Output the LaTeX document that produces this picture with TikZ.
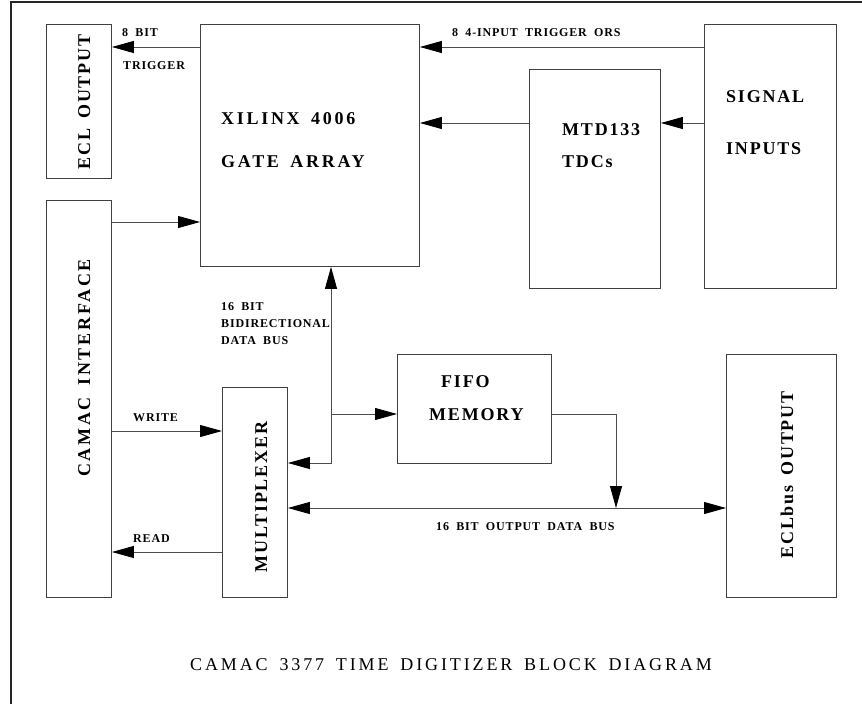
\documentclass[tikz,border=0pt]{standalone}
\usepackage{fontspec}
\usetikzlibrary{arrows.meta}
\newfontfamily\bigf[LetterSpace=10,WordSpace=1.6]{Liberation Serif}
\newfontfamily\bigw[LetterSpace=15,WordSpace=1.6]{Liberation Serif}
\newfontfamily\capf[LetterSpace=16,WordSpace=1.6]{Liberation Serif}
\newfontfamily\smallf[LetterSpace=7,WordSpace=1.9]{Liberation Serif}
\begin{document}
\begin{tikzpicture}[x=1pt,y=-1pt,
  blk/.style={draw=black!75,line width=0.9pt,rectangle,anchor=north west,inner sep=0pt},
  conn/.style={draw=black!70,line width=0.9pt},
  tip/.tip={Triangle[length=22pt,width=12pt,color=black]},
  arr/.style={conn,-tip},
  darr/.style={conn,tip-tip},
  bigtxt/.style={font=\bigf\bfseries\fontsize{18}{20}\selectfont,inner sep=0pt,anchor=base west},
  widetxt/.style={font=\bigw\bfseries\fontsize{18}{20}\selectfont,inner sep=0pt,anchor=base west},
  rottxt/.style={font=\bigf\bfseries\fontsize{18}{20}\selectfont,inner sep=0pt,anchor=base,rotate=90},
  lbl/.style={font=\smallf\bfseries\fontsize{12}{14}\selectfont,inner sep=0pt,anchor=base west},
  captxt/.style={font=\capf\fontsize{18}{20}\selectfont,inner sep=0pt,anchor=base west}]
\useasboundingbox (0,0) rectangle (862,704);
% frame
\draw[black!85,line width=1.3pt] (11,704) -- (11,2) -- (862,2);
% boxes
\node[blk,minimum width=65pt,minimum height=154pt] (ecl) at (46,24) {};
\node[blk,minimum width=219pt,minimum height=242pt] (xil) at (200,24) {};
\node[blk,minimum width=131pt,minimum height=219pt] (mtd) at (529,69) {};
\node[blk,minimum width=132pt,minimum height=264pt] (sig) at (704,24) {};
\node[blk,minimum width=65pt,minimum height=397pt] (cam) at (46,200) {};
\node[blk,minimum width=65pt,minimum height=210pt] (mux) at (222,387) {};
\node[blk,minimum width=154pt,minimum height=109pt] (fifo) at (397,354) {};
\node[blk,minimum width=110pt,minimum height=243pt] (eclb) at (726,354) {};
% box texts
\node[rottxt] (tecl) at (90,102) {ECL OUTPUT};
\node[widetxt] (txil1) at (221,124) {XILINX 4006};
\node[widetxt] (txil2) at (221,167.5) {GATE ARRAY};
\node[bigtxt] (tmtd1) at (562,135) {MTD133};
\node[bigtxt] (tmtd2) at (562,167.7) {TDCs};
\node[bigtxt] (tsig1) at (726,102.3) {SIGNAL};
\node[bigtxt] (tsig2) at (726,154.3) {INPUTS};
\node[rottxt,font=\bigw\bfseries\fontsize{18}{20}\selectfont] (tcam) at (90,368) {CAMAC INTERFACE};
\node[rottxt] (tmux) at (267,497) {MULTIPLEXER};
\node[bigtxt] (tfifo1) at (441,387.7) {FIFO};
\node[bigtxt] (tfifo2) at (429,420) {MEMORY};
\node[rottxt] (teclb) at (793,475) {ECLbus OUTPUT};
% junction coordinates
\coordinate (bj) at (331,463);
\coordinate (bb) at (331,414);
\coordinate (fj) at (616,414);
\coordinate (fb) at (616,508);
% connectors
\draw[arr] (xil.west |- 0,47) -- (ecl.east |- 0,47);
\draw[arr] (sig.west |- 0,47) -- (xil.east |- 0,47);
\draw[arr] (mtd.west |- 0,123) -- (xil.east |- 0,123);
\draw[arr] (sig.west |- 0,123) -- (mtd.east |- 0,123);
\draw[arr] (cam.east |- 0,222) -- (xil.west |- 0,222);
\draw[arr] (cam.east |- 0,431) -- (mux.west |- 0,431);
\draw[arr] (mux.west |- 0,552) -- (cam.east |- 0,552);
\draw[darr] (mux.east |- bj) -- (bj) -- (bj |- xil.south);
\draw[arr] (bb) -- (fifo.west |- bb);
\draw[arr] (fifo.east |- fj) -- (fj) -- (fb);
\draw[darr] (mux.east |- fb) -- (eclb.west |- fb);
% labels
\node[lbl] (l8bit) at (122,36) {8 BIT};
\node[lbl] (ltrig) at (123,69) {TRIGGER};
\node[lbl] (lors) at (452,36) {8 4-INPUT TRIGGER ORS};
\node[lbl] (lbid1) at (221,310.7) {16 BIT};
\node[lbl] (lbid2) at (221,327.3) {BIDIRECTIONAL};
\node[lbl] (lbid3) at (221,344) {DATA BUS};
\node[lbl] (lwrite) at (133,421) {WRITE};
\node[lbl] (lread) at (133,542) {READ};
\node[lbl] (lbus) at (436,530) {16 BIT OUTPUT DATA BUS};
\node[captxt] (caption) at (190,670) {CAMAC 3377 TIME DIGITIZER BLOCK DIAGRAM};
\end{tikzpicture}
\end{document}
